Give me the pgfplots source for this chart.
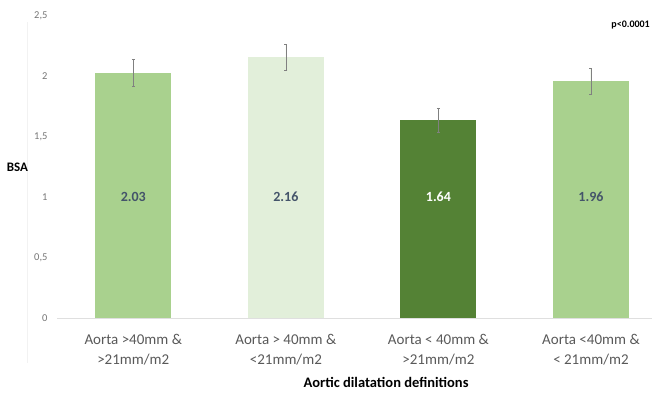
\documentclass[border=0pt]{standalone}
\usepackage{pgfplots}
\pgfplotsset{compat=1.18}
\usepackage{fontspec}
\setmainfont{Carlito}
\definecolor{lgreen}{HTML}{A9D18E}
\definecolor{vlgreen}{HTML}{E2EFDA}
\definecolor{dgreen}{HTML}{548235}
\definecolor{lbl}{HTML}{44546A}
\definecolor{tk}{HTML}{595959}
\definecolor{ytk}{HTML}{767676}
\begin{document}
\begin{tikzpicture}
\path[use as bounding box] (-57pt,-74pt) rectangle (595pt,318pt);
\draw[gray!10, line width=0.6pt] (-30pt,-45pt) -- (-30pt,296pt);
\begin{axis}[
  at={(0pt,0pt)}, anchor=south west,
  scale only axis, width=595pt, height=302pt,
  xmin=-0.5, xmax=3.4, ymin=0, ymax=2.5,
  axis line style={draw=none},
  tick style={draw=none},
  ytick={0,0.5,1,1.5,2,2.5},
  yticklabel style={font=\fontsize{10.5}{12}\selectfont, text=ytk, xshift=-6pt},
  /pgf/number format/assume math mode=true,
  /pgf/number format/use comma,
  xtick={0,1,2,3},
  xticklabels={{Aorta >40mm \&\\>21mm/m2},{Aorta > 40mm \&\\<21mm/m2},{Aorta < 40mm \&\\>21mm/m2},{Aorta <40mm \&\\< 21mm/m2}},
  xticklabel style={align=center, font=\fontsize{15}{20}\selectfont, text=tk, yshift=-8pt},
  ylabel={\textbf{BSA}},
  ylabel style={rotate=-90, font=\fontsize{13}{15}\selectfont, at={(rel axis cs:0,0.5)}, anchor=center, xshift=-39.5pt},
  xlabel={\textbf{Aortic dilatation definitions}},
  xlabel style={font=\fontsize{14.5}{16}\selectfont, at={(rel axis cs:0.553,0)}, anchor=north, yshift=-56pt},
  ybar, bar width=76pt,
  error bars/error bar style={draw=gray, line width=0.6pt},
  clip=false,
  extra y ticks={0}, extra y tick labels={},
  extra y tick style={grid=major, major grid style={draw=gray!25, line width=0.6pt}},
]
\addplot[fill=lgreen, draw=none, bar shift=0pt,
  error bars/.cd, y dir=both, y explicit, error mark options={rotate=90, mark size=1.5pt, draw=gray}]
  coordinates {(0,2.03) +- (0,0.11)};
\addplot[fill=vlgreen, draw=none, bar shift=0pt,
  error bars/.cd, y dir=both, y explicit, error mark options={rotate=90, mark size=1.5pt, draw=gray}]
  coordinates {(1,2.16) +- (0,0.11)};
\addplot[fill=dgreen, draw=none, bar shift=0pt,
  error bars/.cd, y dir=both, y explicit, error mark options={rotate=90, mark size=1.5pt, draw=gray}]
  coordinates {(2,1.64) +- (0,0.10)};
\addplot[fill=lgreen, draw=none, bar shift=0pt,
  error bars/.cd, y dir=both, y explicit, error mark options={rotate=90, mark size=1.5pt, draw=gray}]
  coordinates {(3,1.96) +- (0,0.11)};
\node[font=\fontsize{14}{16}\selectfont\bfseries, text=lbl] at (axis cs:0,1.0) {2.03};
\node[font=\fontsize{14}{16}\selectfont\bfseries, text=lbl] at (axis cs:1,1.0) {2.16};
\node[font=\fontsize{14}{16}\selectfont\bfseries, text=white] at (axis cs:2,1.0) {1.64};
\node[font=\fontsize{14}{16}\selectfont\bfseries, text=lbl] at (axis cs:3,1.0) {1.96};
\node[font=\fontsize{10}{12}\selectfont\bfseries, anchor=east, inner sep=0pt] at ([xshift=-2pt]rel axis cs:1,0.97) {p<0.0001};
\end{axis}
\end{tikzpicture}
\end{document}
